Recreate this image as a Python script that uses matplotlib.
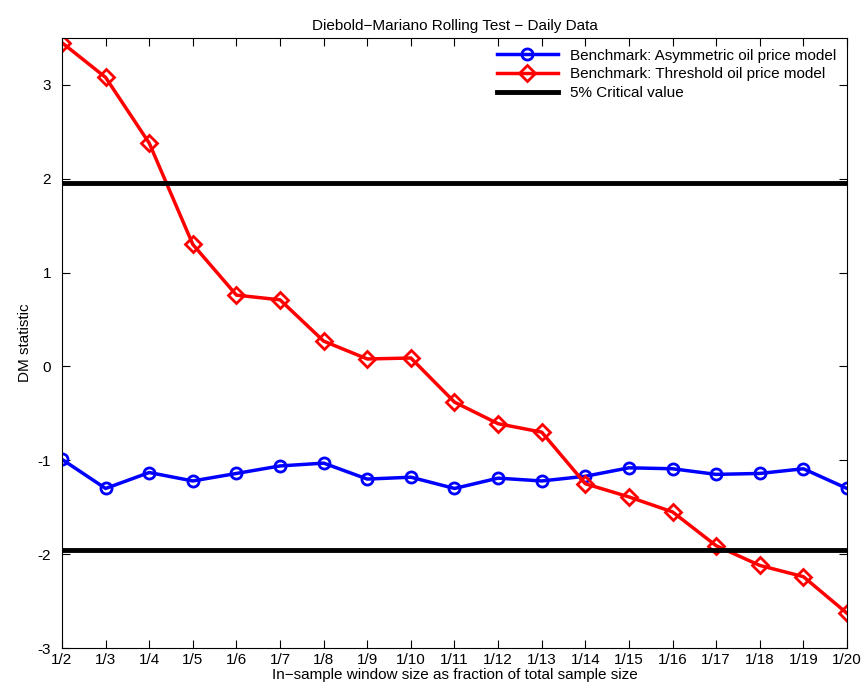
import numpy as np
import matplotlib.pyplot as plt

labels = ['1/%d' % k for k in range(2, 21)]
asym = [-0.99, -1.30, -1.13, -1.22, -1.14, -1.06, -1.03, -1.20, -1.18, -1.30,
        -1.19, -1.22, -1.17, -1.08, -1.09, -1.15, -1.14, -1.09, -1.30]
thresh = [3.45, 3.08, 2.38, 1.30, 0.76, 0.71, 0.27, 0.08, 0.09, -0.38,
          -0.61, -0.70, -1.25, -1.39, -1.55, -1.91, -2.12, -2.24, -2.63]
crit = 1.96

plt.rcParams['font.family'] = ['Liberation Sans', 'DejaVu Sans']
fig = plt.figure(figsize=(8.62, 7.0), dpi=100)
ax = fig.add_axes([62/862, 52/700, 785/862, 610/700])
x = np.arange(len(labels))
ax.plot(x, asym, '-o', color='blue', lw=2.5, ms=8, mfc='none', mew=2,
        label='Benchmark: Asymmetric oil price model')
ax.plot(x, thresh, '-D', color='red', lw=2.5, ms=8, mfc='none', mew=2,
        label='Benchmark: Threshold oil price model')
ax.axhline(crit, color='black', lw=3.5, label='5% Critical value')
ax.axhline(-crit, color='black', lw=3.5)
ax.set_xlim(0, len(labels) - 1)
ax.set_ylim(-3, 3.5)
ax.set_xticks(x)
ax.set_xticklabels(labels)
ax.set_yticks([-3, -2, -1, 0, 1, 2, 3])
ax.set_yticklabels([str(v) for v in [-3, -2, -1, 0, 1, 2, 3]])
ax.tick_params(direction='in', top=True, right=True, labelsize=11, length=6)
ax.tick_params(axis='y', pad=8)
ax.set_xlabel('In\u2212sample window size as fraction of total sample size', fontsize=11, labelpad=1)
ax.set_ylabel('DM statistic', fontsize=11)
ax.set_title('Diebold\u2212Mariano Rolling Test \u2212 Daily Data', fontsize=11)
ax.legend(loc='upper right', fontsize=11, frameon=False,
          handlelength=4, borderaxespad=0.3, labelspacing=0.3)
fig.savefig('out.png')
